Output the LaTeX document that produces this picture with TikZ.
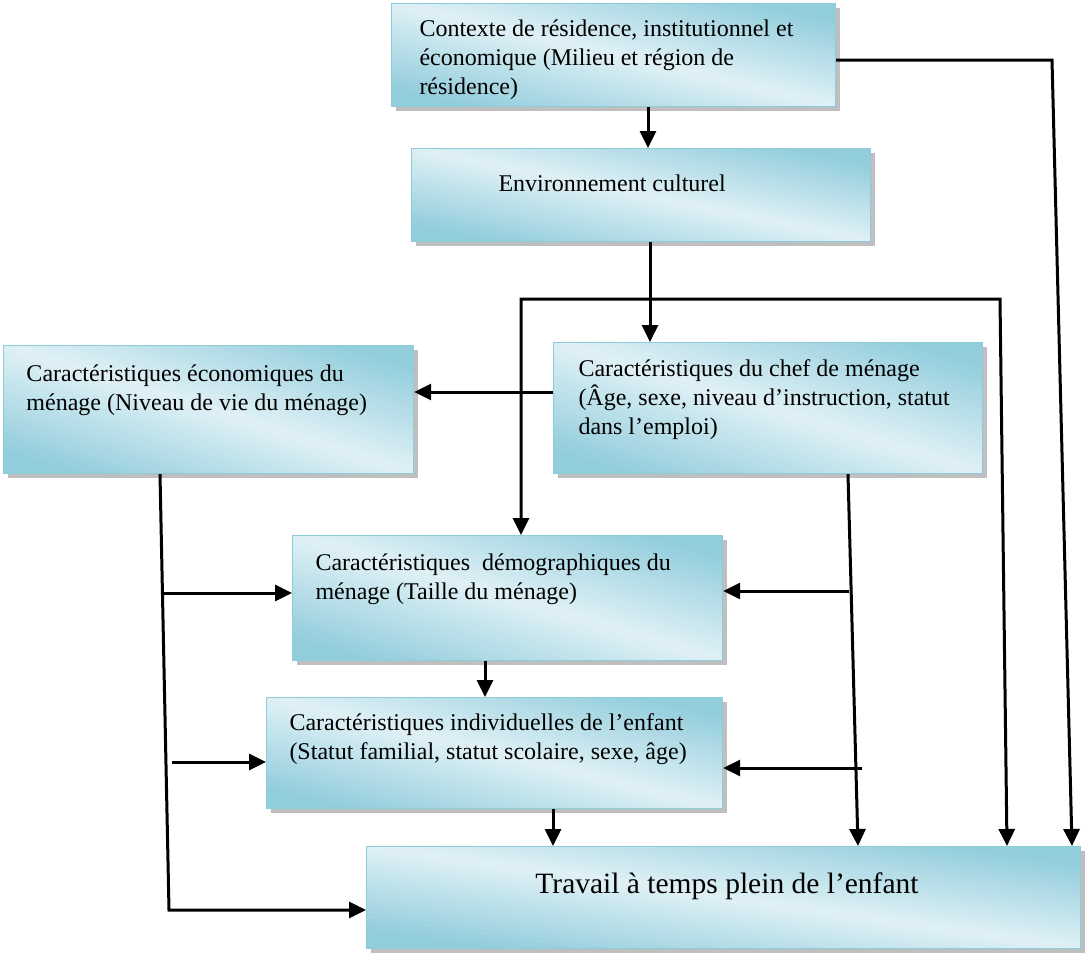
\documentclass[tikz,border=0pt]{standalone}
\usepackage{fontspec}
\setmainfont{Liberation Serif}
\usetikzlibrary{arrows.meta,shadows}
\definecolor{aquadark}{RGB}{146,205,220}
\definecolor{aqualight}{RGB}{224,241,246}
\definecolor{aquaedge}{RGB}{140,204,219}
\begin{document}
\begin{tikzpicture}[x=1pt, y=-1pt, line width=3pt, >={Triangle[length=17pt, width=16pt]},
    box/.style 2 args = {draw=aquaedge, line width=1.2pt, inner sep=0pt, anchor=north west,
        fill=aquadark, minimum width=#1, minimum height=#2,
        drop shadow={shadow xshift=4pt, shadow yshift=-4pt, fill=gray!50, opacity=1},
        path picture={
            \begin{scope}[shift={(path picture bounding box.north west)}, x=#1pt, y=-#2pt]
                \foreach \k in {0,...,39} {
                    \pgfmathsetmacro\sa{-1+\k/20}
                    \pgfmathsetmacro\sb{\sa+0.07}
                    \pgfmathtruncatemacro\pc{max(0,100-abs(\sa+0.025)*120)}
                    \fill[aqualight!\pc!aquadark] (\sa-1,-1) -- (\sa+2,2) -- (\sb+2,2) -- (\sb-1,-1) -- cycle;
                }
            \end{scope}}},
    txt/.style = {anchor=north west, align=left, inner sep=0pt, font=\fontsize{24}{29}\selectfont}]
    \useasboundingbox (0,0) rectangle (1087,954);

    \node[box={444}{103}] (ctx)   at (391,3)   {};
    \node[box={459}{93}]  (env)   at (411,148) {};
    \node[box={410}{128}] (eco)   at (3,345)   {};
    \node[box={429}{131}] (chef)  at (553,342) {};
    \node[box={430}{125}] (demo)  at (292,535) {};
    \node[box={456}{111}] (indiv) at (266,697) {};
    \node[box={714}{102}] (trav)  at (366,846) {};

    \node[txt] (ctxtxt)   at (418,18)  {Contexte de résidence, institutionnel et\\économique (Milieu et région de\\résidence)};
    \node[txt] (envtxt)   at (497,173) {Environnement culturel};
    \node[txt] (ecotxt)   at (25,363)  {Caractéristiques économiques du\\ménage (Niveau de vie du ménage)};
    \node[txt] (cheftxt)  at (577,358) {Caractéristiques du chef de ménage\\(Âge, sexe, niveau d’instruction, statut\\dans l’emploi)};
    \node[txt] (demotxt)  at (314,552) {Caractéristiques\ \ démographiques du\\ménage (Taille du ménage)};
    \node[txt] (indivtxt) at (288,712) {Caractéristiques individuelles de l’enfant\\(Statut familial, statut scolaire, sexe, âge)};
    \node[font=\fontsize{29.5}{34}\selectfont, inner sep=0pt] (travtxt) at (727,886) {Travail à temps plein de l’enfant};

    \coordinate (ctxout) at (1052,60);
    \coordinate (splitl) at (521,299);
    \coordinate (splitr) at (1000,299);
    \coordinate (ecoleft) at (169,910);
    \coordinate (ecotap1) at (161,593);
    \coordinate (ecotap2) at (172,762);
    \coordinate (cheftap1) at (849,591);
    \coordinate (cheftap2) at (862,768);

    \draw[->] (ctx.south -| 648,0) -- (env.north -| 648,0);
    \draw[->] (env.south -| 650,0) -- (chef.north -| 650,0);
    \draw[->] (ctx.east |- ctxout) -- (ctxout) -- (trav.north -| 1072,0);
    \draw[<->] (demo.north -| splitl) -- (splitl) -- (splitr) -- (trav.north -| 1007,0);
    \draw[->] (chef.west |- 0,392) -- (eco.east |- 0,392);
    \draw[->] (eco.south -| 160,0) -- (ecoleft) -- (trav.west |- ecoleft);
    \draw[->] (ecotap1) -- (demo.west |- ecotap1);
    \draw[->] (ecotap2) -- (indiv.west |- ecotap2);
    \draw[->] (chef.south -| 848,0) -- (trav.north -| 858,0);
    \draw[->] (cheftap1) -- (demo.east |- cheftap1);
    \draw[->] (cheftap2) -- (indiv.east |- cheftap2);
    \draw[->] (demo.south -| 485,0) -- (indiv.north -| 485,0);
    \draw[->] (indiv.south -| 553,0) -- (trav.north -| 553,0);
\end{tikzpicture}
\end{document}
